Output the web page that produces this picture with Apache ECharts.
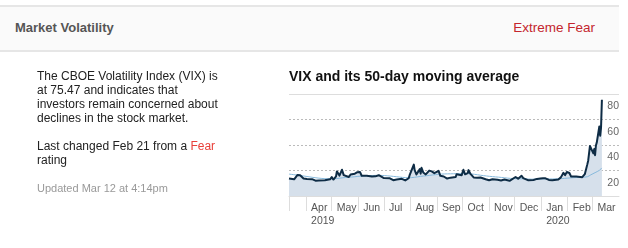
<!DOCTYPE html>
<html>
<head>
<meta charset="utf-8">
<script src="https://cdn.jsdelivr.net/npm/echarts@6/dist/echarts.min.js"></script>
<style>
  html, body { margin: 0; padding: 0; background: #fff; }
  body { width: 628px; height: 248px; position: relative; overflow: hidden;
         font-family: "Liberation Sans", Arial, sans-serif; }
  #chart { position: absolute; left: 0; top: 0; width: 628px; height: 248px; }
  .hdr { position: absolute; left: 0; top: 5px; width: 619px; height: 43px;
         background: #fafafa; border-top: 2px solid #e6e6e6; border-bottom: 2px solid #e6e6e6; z-index: 2; }
  .hdr .t { position: absolute; left: 15px; top: 13px; font-size: 13px; font-weight: bold; color: #555; line-height: 16px; }
  .hdr .r { position: absolute; right: 24px; top: 13px; font-size: 13.5px; color: #c4262e; line-height: 16px; }
  .txt { position: absolute; left: 37px; font-size: 12px; line-height: 14px; color: #222; white-space: nowrap; z-index: 2; }
  .fear { color: #e8403a; }
  .upd { position: absolute; left: 37px; top: 181px; font-size: 11px; line-height: 14px; color: #999; white-space: nowrap; z-index: 2; }
</style>
</head>
<body>
<div id="chart"></div>
<div class="hdr"><span class="t">Market Volatility</span><span class="r">Extreme Fear</span></div>
<div class="txt" style="top:69px">The CBOE Volatility Index (VIX) is<br>at 75.47 and indicates that<br>investors remain concerned about<br>declines in the stock market.</div>
<div class="txt" style="top:139px">Last changed Feb 21 from a <span class="fear">Fear</span><br>rating</div>
<div class="upd">Updated Mar 12 at 4:14pm</div>
<script>
// ---- data ----
const vixDates = [
 '2019-03-12','2019-03-14','2019-03-18','2019-03-20','2019-03-22','2019-03-25','2019-03-27','2019-03-29',
 '2019-04-02','2019-04-04','2019-04-08','2019-04-10','2019-04-12','2019-04-16','2019-04-18','2019-04-23','2019-04-25','2019-04-29',
 '2019-05-01','2019-05-03','2019-05-06','2019-05-07','2019-05-09','2019-05-10','2019-05-13','2019-05-15','2019-05-17','2019-05-21','2019-05-23','2019-05-28','2019-05-31',
 '2019-06-03','2019-06-05','2019-06-07','2019-06-11','2019-06-13','2019-06-17','2019-06-19','2019-06-21','2019-06-25','2019-06-27',
 '2019-07-01','2019-07-03','2019-07-08','2019-07-10','2019-07-12','2019-07-16','2019-07-18','2019-07-22','2019-07-24','2019-07-26','2019-07-30','2019-07-31',
 '2019-08-02','2019-08-05','2019-08-06','2019-08-08','2019-08-09','2019-08-12','2019-08-13','2019-08-14','2019-08-16','2019-08-19','2019-08-21','2019-08-23','2019-08-26','2019-08-27','2019-08-29','2019-08-30',
 '2019-09-03','2019-09-05','2019-09-09','2019-09-11','2019-09-13','2019-09-17','2019-09-19','2019-09-23','2019-09-24','2019-09-26','2019-09-30',
 '2019-10-01','2019-10-02','2019-10-04','2019-10-07','2019-10-08','2019-10-10','2019-10-14','2019-10-16','2019-10-18','2019-10-22','2019-10-24','2019-10-28','2019-10-30',
 '2019-11-01','2019-11-05','2019-11-07','2019-11-11','2019-11-13','2019-11-15','2019-11-19','2019-11-21','2019-11-25','2019-11-27',
 '2019-12-02','2019-12-03','2019-12-05','2019-12-09','2019-12-11','2019-12-13','2019-12-17','2019-12-19','2019-12-23','2019-12-27','2019-12-31',
 '2020-01-02','2020-01-03','2020-01-06','2020-01-08','2020-01-10','2020-01-14','2020-01-16','2020-01-21','2020-01-23','2020-01-24','2020-01-27','2020-01-29','2020-01-31',
 '2020-02-03','2020-02-05','2020-02-07','2020-02-11','2020-02-13','2020-02-18','2020-02-20','2020-02-21','2020-02-24','2020-02-25','2020-02-26','2020-02-27','2020-02-28',
 '2020-03-02','2020-03-03','2020-03-04','2020-03-05','2020-03-06','2020-03-09','2020-03-10','2020-03-11','2020-03-12'
];
const vixValues = [
 13.8,13.5,13.1,13.9,16.5,16.3,14.9,13.7,
 13.4,12.6,13.2,13.3,12.0,12.2,12.1,12.3,13.1,13.1,
 14.8,12.9,15.4,19.3,19.1,16.0,20.6,16.4,16.0,14.9,16.9,17.5,18.7,
 18.9,15.9,16.3,15.9,15.8,15.3,14.3,15.4,16.3,15.8,
 14.1,12.6,13.9,13.0,12.4,12.9,13.5,13.5,12.1,12.2,13.9,16.1,
 17.6,24.6,20.2,16.9,18.0,21.1,17.5,22.1,18.5,16.9,15.8,19.9,19.3,20.3,17.9,19.0,
 19.7,15.8,15.3,14.6,13.7,14.4,14.0,14.9,17.1,16.1,16.2,
 18.6,20.6,17.0,17.9,20.3,17.6,14.6,13.7,14.3,14.5,13.7,13.1,12.3,
 12.3,13.1,12.7,12.7,13.0,12.1,12.9,12.8,11.9,11.8,
 14.9,16.0,13.6,15.9,14.0,12.6,12.3,12.5,12.6,13.4,13.8,
 12.5,14.0,13.9,13.5,12.6,12.4,12.3,12.9,12.9,14.6,18.2,16.4,18.8,
 18.0,15.2,15.5,15.2,14.2,14.8,15.6,17.1,25.0,27.9,27.6,39.2,40.1,
 33.4,36.8,32.0,39.6,41.9,54.5,47.3,53.9,75.5
];
const maDates = [
 '2019-03-12','2019-03-19','2019-03-26','2019-04-02','2019-04-09','2019-04-16','2019-04-23','2019-04-30',
 '2019-05-07','2019-05-14','2019-05-21','2019-05-28','2019-06-04','2019-06-11','2019-06-18','2019-06-25',
 '2019-07-02','2019-07-09','2019-07-16','2019-07-23','2019-07-30','2019-08-06','2019-08-13','2019-08-20','2019-08-27',
 '2019-09-03','2019-09-10','2019-09-17','2019-09-24','2019-10-01','2019-10-08','2019-10-15','2019-10-22','2019-10-29',
 '2019-11-05','2019-11-12','2019-11-19','2019-11-26','2019-12-03','2019-12-10','2019-12-17','2019-12-24','2019-12-31',
 '2020-01-07','2020-01-14','2020-01-21','2020-01-28','2020-02-04','2020-02-11','2020-02-18','2020-02-24','2020-02-28',
 '2020-03-04','2020-03-09','2020-03-12'
];
const maValues = [
 17.2,16.6,16.0,15.3,14.6,14.0,13.6,13.5,
 13.7,14.3,14.7,15.1,15.6,15.9,16.1,16.2,
 16.0,15.6,15.1,14.6,14.3,14.7,15.4,15.9,16.5,
 17.0,17.3,17.4,17.5,17.6,17.5,17.0,16.3,15.7,
 15.2,14.8,14.3,13.8,13.6,13.5,13.3,13.2,13.3,
 13.4,13.4,13.5,13.8,14.2,14.5,14.7,15.1,16.6,
 18.3,20.1,22.0
];
const xStart = '2019-03-12';
const xEnd = '2020-04-01';
const monthTicks = ['2019-04-01','2019-05-01','2019-06-01','2019-07-01','2019-08-01','2019-09-01','2019-10-01','2019-11-01','2019-12-01','2020-01-01','2020-02-01','2020-03-01'];
const monthLabels = ['Apr','May','Jun','Jul','Aug','Sep','Oct','Nov','Dec','Jan','Feb','Mar'];
const yearLabels = ['2019','','','','','','','','','2020','',''];
const yTicks = [20,40,60,80];

// ---- build ----
const ts = s => { const p = s.split('-').map(Number); return Date.UTC(p[0], p[1]-1, p[2]); };
const vix = vixDates.map((d,i) => [ts(d), vixValues[i]]);
const ma = maDates.map((d,i) => [ts(d), maValues[i]]);
const monthTs = monthTicks.map(ts);
const tickVals = [ts(xStart)].concat(monthTs);

const chart = echarts.init(document.getElementById('chart'), null, {renderer: 'canvas'});
chart.setOption({
  animation: false,
  title: {
    text: 'VIX and its 50-day moving average',
    left: 289, top: 70, padding: 0,
    textStyle: { fontFamily: 'Liberation Sans', fontSize: 14, fontWeight: 'bold', color: '#111' }
  },
  grid: { left: 289, right: 9, top: 94, height: 102 },
  xAxis: {
    type: 'value', min: ts(xStart), max: ts(xEnd), scale: true,
    axisLine: { show: true, lineStyle: { color: '#dddddd', width: 1 } },
    axisTick: { show: true, length: 15, customValues: tickVals, lineStyle: { color: '#dddddd' } },
    splitLine: { show: false },
    axisLabel: {
      customValues: tickVals,
      align: 'left', margin: 5, padding: [0,0,0,5],
      fontFamily: 'Liberation Sans', fontSize: 10.5, color: '#555', lineHeight: 13.5,
      hideOverlap: false, showMinLabel: true, showMaxLabel: true,
      formatter: (v) => {
        const i = monthTs.indexOf(v);
        if (i < 0) return '';
        return yearLabels[i] ? monthLabels[i] + '\n' + yearLabels[i] : monthLabels[i];
      }
    }
  },
  yAxis: [{
    type: 'value', position: 'right', min: 0, max: 80, interval: 20,
    axisLine: { show: false }, axisTick: { show: false },
    splitLine: { show: true, lineStyle: { color: '#bbbbbb', type: [2,2], width: 1 } },
    axisLabel: {
      customValues: yTicks, inside: true, margin: 0,
      verticalAlign: 'top', padding: [7,0,0,0],
      fontFamily: 'Liberation Sans', fontSize: 10.5, color: '#666'
    }
  }, {
    type: 'value', position: 'right', min: 0, max: 80, interval: 80,
    axisLine: { show: false }, axisTick: { show: false }, axisLabel: { show: false },
    splitLine: { show: true, lineStyle: { color: '#dddddd', type: 'solid', width: 1 } }
  }],
  series: [
    { type: 'line', data: vix, showSymbol: false, symbol: 'none', z: 1,
      lineStyle: { width: 0, opacity: 0 }, areaStyle: { color: '#d6e0eb', opacity: 1 }, silent: true },
    { type: 'line', data: ma, showSymbol: false, symbol: 'none', z: 2, smooth: 0.3,
      lineStyle: { width: 1, color: '#86b9dc' } },
    { type: 'line', data: vix, showSymbol: false, symbol: 'none', z: 3,
      lineStyle: { width: 2, color: '#0e2c45', join: 'round' } }
  ]
});
</script>
</body>
</html>
